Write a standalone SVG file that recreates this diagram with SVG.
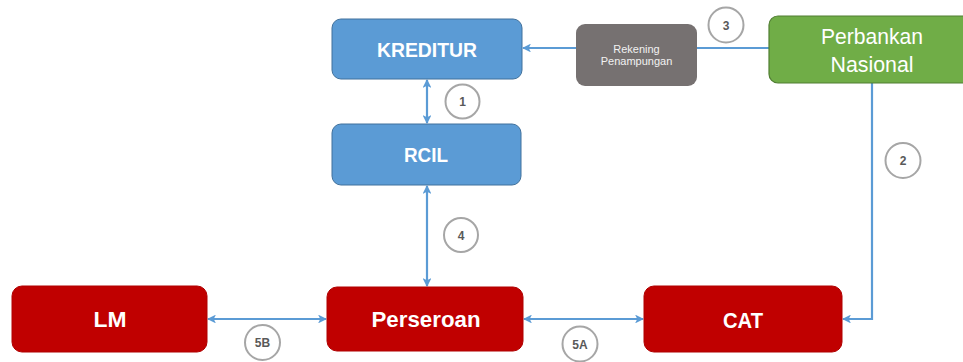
<svg xmlns="http://www.w3.org/2000/svg" width="963" height="362" viewBox="0 0 963 362">
<defs>
<style>
.blue{fill:#5b9bd5;stroke:#41719c;stroke-width:1}
.red{fill:#c00000;stroke:#b00000;stroke-width:1}
.green{fill:#70ad47;stroke:#507e32;stroke-width:1.2}
.gray{fill:#767171}
.lbl{font-family:"Liberation Sans",Arial,sans-serif;fill:#ffffff;text-anchor:middle}
.b{font-weight:bold}
.small{font-family:"Liberation Sans",Arial,sans-serif;fill:#f2f2f2;font-size:11px;text-anchor:middle}
.conn{fill:none;stroke:#5b9bd5;stroke-width:2.2}
.badge circle{fill:#ffffff;stroke:#a6a6a6;stroke-width:2}
.badge text{font-family:"Liberation Sans",Arial,sans-serif;font-weight:bold;font-size:12px;fill:#595959;text-anchor:middle}
</style>
<marker id="arr" viewBox="0 0 10 10" refX="9" refY="5" markerWidth="4" markerHeight="4" orient="auto-start-reverse" markerUnits="strokeWidth">
<path d="M0,0 L10,5 L0,10 L2.5,5 z" fill="#5b9bd5"/>
</marker>
</defs>

<g id="connectors">
<line class="conn" x1="427" y1="80" x2="427" y2="123" marker-start="url(#arr)" marker-end="url(#arr)"/>
<line class="conn" x1="427" y1="186" x2="427" y2="286" marker-start="url(#arr)" marker-end="url(#arr)"/>
<line class="conn" x1="576" y1="48" x2="523" y2="48" marker-end="url(#arr)"/>
<line class="conn" x1="769" y1="48" x2="697" y2="48"/>
<path class="conn" d="M872,83 V319 H843" marker-end="url(#arr)"/>
<line class="conn" x1="208" y1="319" x2="326" y2="319" marker-start="url(#arr)" marker-end="url(#arr)"/>
<line class="conn" x1="524" y1="319" x2="643" y2="319" marker-start="url(#arr)" marker-end="url(#arr)"/>
</g>

<g id="kreditur">
<rect class="blue" x="332" y="19" width="190" height="60" rx="9"/>
<text class="lbl b" x="427" y="56.5" font-size="21" textLength="100" lengthAdjust="spacingAndGlyphs">KREDITUR</text>
</g>

<g id="rcil">
<rect class="blue" x="332" y="124" width="189" height="61" rx="9"/>
<text class="lbl b" x="426" y="162" font-size="21" textLength="44" lengthAdjust="spacingAndGlyphs">RCIL</text>
</g>

<g id="rekening">
<rect class="gray" x="576" y="24" width="121" height="62" rx="9"/>
<text class="small" x="636.5" y="53">Rekening</text>
<text class="small" x="636.5" y="65">Penampungan</text>
</g>

<g id="perbankan">
<rect class="green" x="769" y="16" width="204" height="67" rx="9"/>
<text class="lbl" x="872" y="44" font-size="22" textLength="102" lengthAdjust="spacingAndGlyphs">Perbankan</text>
<text class="lbl" x="872" y="72" font-size="22" textLength="83" lengthAdjust="spacingAndGlyphs">Nasional</text>
</g>

<g id="lm">
<rect class="red" x="12" y="286" width="195" height="66" rx="10"/>
<text class="lbl b" x="110" y="327" font-size="22" textLength="33" lengthAdjust="spacingAndGlyphs">LM</text>
</g>

<g id="perseroan">
<rect class="red" x="327" y="287" width="196" height="64" rx="10"/>
<text class="lbl b" x="426" y="327" font-size="22" textLength="109" lengthAdjust="spacingAndGlyphs">Perseroan</text>
</g>

<g id="cat">
<rect class="red" x="644" y="286" width="198" height="66" rx="10"/>
<text class="lbl b" x="743" y="327.5" font-size="22" textLength="40" lengthAdjust="spacingAndGlyphs">CAT</text>
</g>

<g id="badge-1" class="badge"><circle cx="462.5" cy="101.5" r="17"/><text x="462.5" y="106">1</text></g>
<g id="badge-2" class="badge"><circle cx="903" cy="160.5" r="17.5"/><text x="903" y="165">2</text></g>
<g id="badge-3" class="badge"><circle cx="726" cy="25" r="17.5"/><text x="726" y="29.5">3</text></g>
<g id="badge-4" class="badge"><circle cx="461" cy="235" r="17"/><text x="461" y="239.5">4</text></g>
<g id="badge-5b" class="badge"><circle cx="262.5" cy="342.5" r="17.5"/><text x="262.5" y="347">5B</text></g>
<g id="badge-5a" class="badge"><circle cx="580" cy="344" r="17.5"/><text x="580" y="348.5">5A</text></g>
</svg>
